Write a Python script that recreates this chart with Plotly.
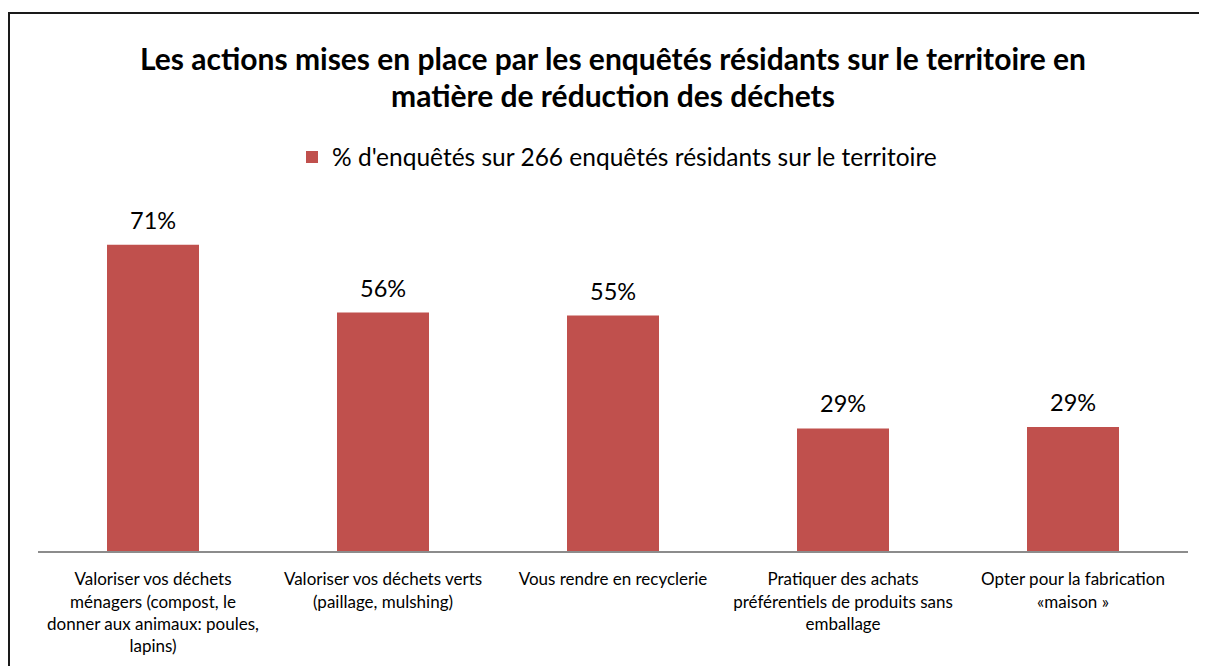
import plotly.graph_objects as go

categories = [
    "Valoriser vos déchets<br>ménagers (compost, le<br>donner aux animaux: poules,<br>lapins)",
    "Valoriser vos déchets verts<br>(paillage, mulshing)",
    "Vous rendre en recyclerie",
    "Pratiquer des achats<br>préférentiels de produits sans<br>emballage",
    "Opter pour la fabrication<br>«maison »",
]
values = [71.4, 55.6, 54.9, 28.6, 28.9]
value_labels = ["71%", "56%", "55%", "29%", "29%"]
series_name = "% d'enquêtés sur 266 enquêtés résidants sur le territoire"
title_lines = [
    "Les actions mises en place par les enquêtés résidants sur le territoire en",
    "matière de réduction des déchets",
]

FONT = "Lato"
BAR = "#C0504D"

OFF = 8  # page body margin
W, H = 1207 - OFF, 666 - OFF
# plot area in page coordinates: x 38..1188, y 208..551
L, R, T, B = 38 - OFF, 1207 - 1188, 208 - OFF, 666 - 551
pw, ph = W - L - R, H - T - B

def px(x):
    return (x - OFF - L) / pw

def py(y):
    return (H - B - (y - OFF)) / ph

fig = go.Figure()
fig.add_trace(go.Bar(
    x=categories, y=values, name=series_name,
    marker=dict(color=BAR, line=dict(width=0)),
    width=0.4, showlegend=True,
))

for c, v, t in zip(categories, values, value_labels):
    fig.add_annotation(x=c, y=v, text=t, showarrow=False, yanchor="bottom",
                       yshift=9, font=dict(family=FONT, size=23.5, color="#000"))

for line, ypix in zip(title_lines, [58, 95]):
    fig.add_annotation(xref="paper", yref="paper", x=px(613), y=py(ypix),
                       text="<b>" + line + "</b>", showarrow=False,
                       xanchor="center", yanchor="middle",
                       font=dict(family=FONT, size=30, color="#000"))

fig.add_shape(type="rect", xref="paper", yref="paper",
              x0=px(9), x1=px(1240), y0=py(13), y1=py(720),
              line=dict(color="#1a1a1a", width=2), fillcolor="rgba(0,0,0,0)", layer="below")

fig.update_layout(
    width=W, height=H,
    margin=dict(l=L, r=R, t=T, b=B, autoexpand=False),
    paper_bgcolor="white", plot_bgcolor="white",
    font=dict(family=FONT, color="#000"),
    showlegend=True,
    legend=dict(orientation="h", x=px(617), xanchor="center", y=py(157), yanchor="middle",
                font=dict(family=FONT, size=24.5, color="#000"), bgcolor="rgba(0,0,0,0)"),
    bargap=0.6,
    xaxis=dict(showline=True, linecolor="#8c8c8c", linewidth=2, ticks="",
               tickfont=dict(family=FONT, size=17, color="#000"),
               ticklabelstandoff=12,
               showgrid=False, zeroline=False, fixedrange=True),
    yaxis=dict(range=[0, 80], visible=False, showgrid=False, zeroline=False),
)

fig.write_html("out.html")
